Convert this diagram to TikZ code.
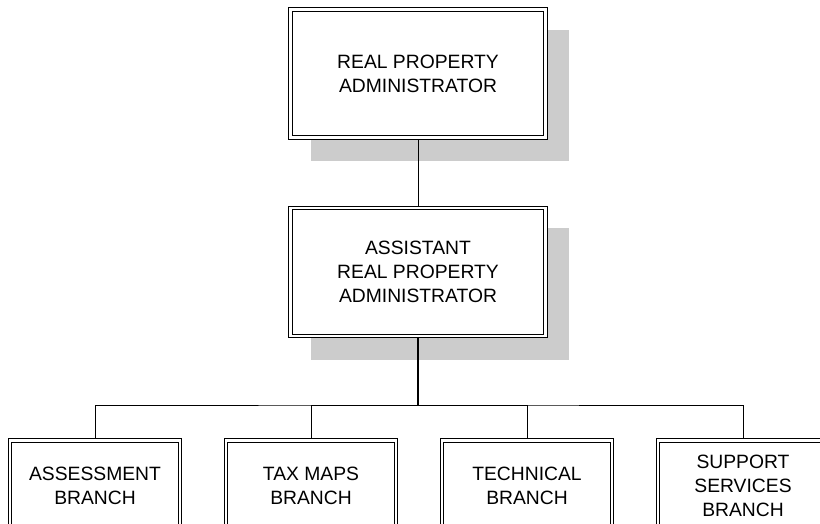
\documentclass[tikz,border=0pt]{standalone}
\usepackage{fontspec}
\setmainfont{Liberation Sans}
\usetikzlibrary{positioning, backgrounds}

\begin{document}
\begin{tikzpicture}[
    x=1pt, y=-1pt,
    every node/.style={align=center, font=\fontsize{19.3}{24}\selectfont},
    caja/.style={rectangle, draw, double, double distance=2.4pt, line width=1.2pt,
                 fill=white, outer sep=1.8pt, inner sep=0pt,
                 minimum width=255pt, minimum height=128pt},
    rama/.style={caja, minimum width=170pt, minimum height=91pt},
    sombra/.style={fill=black!20},
    linea/.style={line width=1pt},
    tronco/.style={line width=2pt}
]
    \useasboundingbox (0,0) rectangle (820,524);
    \clip (0,0) rectangle (820,524);

    \node[caja] (admin)   at (418,73.5) {REAL PROPERTY\\ ADMINISTRATOR};
    \node[caja] (asist)   at (418,272)  {ASSISTANT\\ REAL PROPERTY\\ ADMINISTRATOR};
    \node[rama] (avaluo)  at (95,486)   {ASSESSMENT\\ BRANCH};
    \node[rama] (mapas)   at (311,486)  {TAX MAPS\\ BRANCH};
    \node[rama] (tecnica) at (527,486)  {TECHNICAL\\ BRANCH};
    \node[rama] (apoyo)   at (743,486)  {SUPPORT\\ SERVICES\\ BRANCH};
    \coordinate (bus) at (418,405);

    % sombras detras de las dos cajas grandes
    \begin{scope}[on background layer]
        \fill[sombra] ([shift={(22,22)}]admin.north west) rectangle ([shift={(22,22)}]admin.south east);
        \fill[sombra] ([shift={(22,22)}]asist.north west) rectangle ([shift={(22,22)}]asist.south east);
    \end{scope}

    \draw[linea]  (admin) -- (asist);
    \draw[tronco] (asist) -- (bus);
    \draw[linea]  (avaluo) |- (bus) -| (apoyo);
    \draw[linea]  (mapas) |- (bus);
    \draw[linea]  (tecnica) |- (bus);
\end{tikzpicture}
\end{document}
